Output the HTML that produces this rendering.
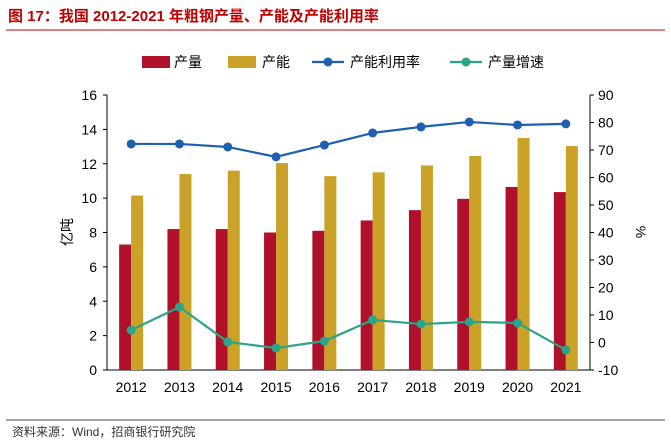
<!DOCTYPE html>
<html><head><meta charset="utf-8"><style>
body{margin:0;background:#fff;font-family:"Liberation Sans","Noto Sans CJK SC",sans-serif;}
svg text{font-family:"Liberation Sans","Noto Sans CJK SC",sans-serif;}
</style></head><body>
<svg id="c" width="671" height="442" xmlns="http://www.w3.org/2000/svg">
<text x="8" y="21" font-size="15" font-weight="bold" fill="#c00000">图 17：我国 2012-2021 年粗钢产量、产能及产能利用率</text>
<line x1="6" y1="30" x2="665" y2="30" stroke="#c00000" stroke-width="1"/>
<line x1="6" y1="420" x2="665" y2="420" stroke="#444" stroke-width="1"/>
<text x="12" y="436" font-size="12" fill="#333">资料来源：Wind，招商银行研究院</text>
<g id="legend"></g><g id="axes"></g><g id="marks"></g>
</svg>
<script>
const years=["2012","2013","2014","2015","2016","2017","2018","2019","2020","2021"];
const production=[7.3,8.2,8.2,8.0,8.1,8.7,9.3,9.96,10.65,10.35];
const capacity=[10.15,11.4,11.6,12.04,11.28,11.5,11.9,12.45,13.5,13.03];
const utilization=[72.2,72.2,71.1,67.5,71.8,76.2,78.4,80.2,79.1,79.5];
const growth=[4.5,12.9,0.2,-2.0,0.5,8.2,6.7,7.5,7.1,-2.7];
const leftTicks=[0,2,4,6,8,10,12,14,16];
const rightTicks=[-10,0,10,20,30,40,50,60,70,80,90];
const NS="http://www.w3.org/2000/svg";
const X0=107,X1=590,Y0=370,Y1=95;
const step=(X1-X0)/years.length;
const xc=i=>X0+step*(i+0.5);
const yl=v=>Y0-(v-0)/(16-0)*(Y0-Y1);
const yr=v=>Y0-(v+10)/100*(Y0-Y1);
function mk(tag,attrs,parent){const e=document.createElementNS(NS,tag);for(const k in attrs)e.setAttribute(k,attrs[k]);(parent||document.getElementById('marks')).appendChild(e);return e;}
const ax=document.getElementById('axes');
let e;
e=mk('line',{x1:X0,y1:Y1,x2:X0,y2:Y0,stroke:'#000'},ax);


e=mk('line',{x1:X1,y1:Y1,x2:X1,y2:Y0,stroke:'#000'},ax);


e=mk('line',{x1:X0,y1:Y0,x2:X1,y2:Y0,stroke:'#000'},ax);


leftTicks.forEach(v=>{
 mk('line',{x1:X0-4,y1:yl(v),x2:X0,y2:yl(v),stroke:'#000'},ax);
 e=mk('text',{x:X0-10,y:yl(v)+5,'font-size':14,'text-anchor':'end'},ax);e.textContent=v;
 
 
});
rightTicks.forEach(v=>{
 mk('line',{x1:X1,y1:yr(v),x2:X1+4,y2:yr(v),stroke:'#000'},ax);
 e=mk('text',{x:X1+8,y:yr(v)+5,'font-size':14},ax);e.textContent=v;
 
 
});
years.forEach((y,i)=>{
 e=mk('text',{x:xc(i),y:392,'font-size':14,'text-anchor':'middle'},ax);e.textContent=y;
 
 
});
e=mk('text',{x:72,y:232,'font-size':14,'text-anchor':'middle',transform:'rotate(-90 72 232)'},ax);e.textContent='亿吨';


e=mk('text',{x:636,y:232,'font-size':14,'text-anchor':'middle',transform:'rotate(90 636 232)'},ax);e.textContent='%';


const bw=12;
years.forEach((y,i)=>{
 e=mk('rect',{x:xc(i)-bw,y:yl(production[i]),width:bw,height:Y0-yl(production[i]),fill:'#b0102a'});
 
 
 e=mk('rect',{x:xc(i),y:yl(capacity[i]),width:bw,height:Y0-yl(capacity[i]),fill:'#c9a227'});
 
 
});
function line(arr,col,name){
 e=mk('polyline',{points:arr.map((v,i)=>xc(i)+','+yr(v)).join(' '),fill:'none',stroke:col,'stroke-width':2.2});
 
 
 arr.forEach((v,i)=>{
  e=mk('circle',{cx:xc(i),cy:yr(v),r:4.5,fill:col});
  
  
 });
}
line(utilization,'#1f5fb0','utilization');
line(growth,'#2aa58a','growth');
const lg=document.getElementById('legend');
const ly=62;
e=mk('rect',{x:142,y:ly-6,width:28,height:12,fill:'#b0102a'},lg);


e=mk('text',{x:174,y:ly+5,'font-size':14},lg);e.textContent='产量';


e=mk('rect',{x:228,y:ly-6,width:28,height:12,fill:'#c9a227'},lg);


e=mk('text',{x:262,y:ly+5,'font-size':14},lg);e.textContent='产能';


[[312,'#1f5fb0','产能利用率','legend-utilization'],[450,'#2aa58a','产量增速','legend-growth']].forEach(a=>{
 mk('line',{x1:a[0],y1:ly,x2:a[0]+32,y2:ly,stroke:a[1],'stroke-width':2.2},lg);
 mk('circle',{cx:a[0]+16,cy:ly,r:4.5,fill:a[1]},lg);
 e=mk('text',{x:a[0]+38,y:ly+5,'font-size':14},lg);e.textContent=a[2];
 
 
});
</script>
</body></html>
